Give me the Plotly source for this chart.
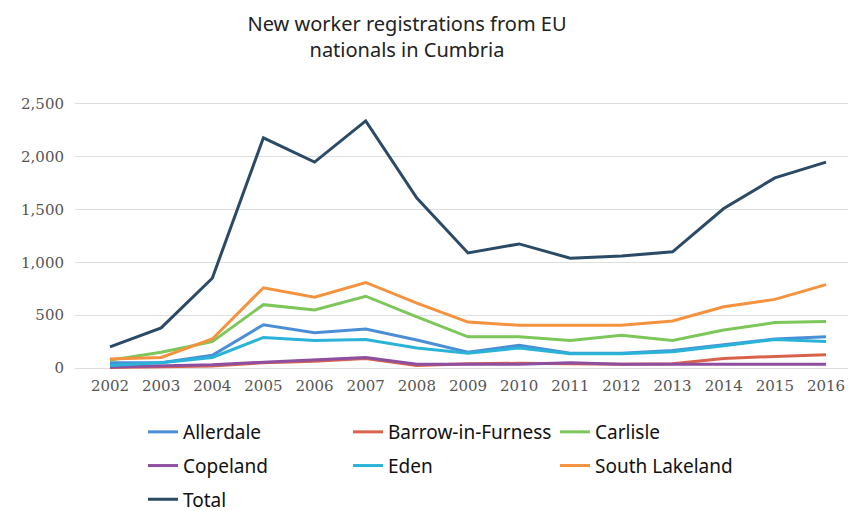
import plotly.graph_objects as go

years = list(range(2002, 2017))
allerdale = [50, 50, 120, 410, 335, 370, 265, 150, 215, 140, 140, 165, 220, 275, 295]
barrow = [5, 10, 20, 50, 65, 90, 25, 40, 45, 40, 35, 40, 90, 110, 125]
carlisle = [75, 150, 250, 600, 550, 680, 485, 295, 295, 260, 310, 260, 360, 430, 440]
copeland = [10, 20, 30, 55, 75, 100, 35, 35, 35, 50, 35, 35, 35, 35, 35]
eden = [25, 50, 100, 290, 260, 270, 190, 140, 190, 135, 135, 155, 210, 270, 250]
south_lakeland = [85, 100, 275, 760, 670, 810, 615, 435, 405, 405, 405, 445, 580, 650, 790]
total = [200, 380, 850, 2180, 1950, 2340, 1610, 1090, 1175, 1040, 1060, 1100, 1510, 1800, 1950]

series = [
    ("Allerdale", allerdale, "#4a8fd6", "legend"),
    ("Barrow-in-Furness", barrow, "#d9634a", "legend2"),
    ("Carlisle", carlisle, "#7cc65a", "legend3"),
    ("Copeland", copeland, "#8e4fa0", "legend"),
    ("Eden", eden, "#2ab3d8", "legend2"),
    ("South Lakeland", south_lakeland, "#f5923e", "legend3"),
    ("Total", total, "#2b4a66", "legend"),
]

fig = go.Figure()
for name, vals, col, lg in series:
    fig.add_trace(go.Scatter(x=years, y=vals, name=name, mode="lines",
                             legend=lg, legendgroup=name,
                             line=dict(color=col, width=3)))

legend_font = dict(family="Noto Sans", size=19, color="#111111")
def leg(xpx):
    return dict(orientation="v", xref="container", yref="container",
                x=xpx / 848, xanchor="left", y=1 - 413 / 511, yanchor="top",
                font=legend_font, traceorder="grouped", tracegroupgap=6,
                bgcolor="rgba(0,0,0,0)")

fig.update_layout(
    width=848, height=511,
    margin=dict(l=75, r=0, t=95, b=136, autoexpand=False),
    paper_bgcolor="white", plot_bgcolor="white",
    title=dict(text="New worker registrations from EU<br>nationals in Cumbria",
               xref="container", yref="container",
               x=407/848, xanchor="center", y=1 - 31/511, yanchor="middle",
               font=dict(family="Noto Sans", size=20, color="#222222")),
    xaxis=dict(range=[2001.316, 2016.43], tickmode="array", tickvals=years,
               ticktext=[str(y) for y in years], showgrid=False, zeroline=False,
               showline=False, ticks="", automargin=False,
               tickfont=dict(family="DejaVu Serif", size=15, color="#555555")),
    yaxis=dict(range=[-66, 2585], tickvals=[0, 500, 1000, 1500, 2000, 2500],
               tickformat=",", showgrid=True, gridcolor="#dedede", gridwidth=1,
               zeroline=False, showline=False, ticks="", automargin=False,
               ticklabelstandoff=10,
               tickfont=dict(family="DejaVu Serif", size=15, color="#555555")),
    legend=leg(143),
    legend2=leg(348),
    legend3=leg(555),
    showlegend=True,
)

fig.write_html("out.html", config={"displayModeBar": False},
               post_script="document.body.style.margin='0';document.body.style.overflow='hidden';")
